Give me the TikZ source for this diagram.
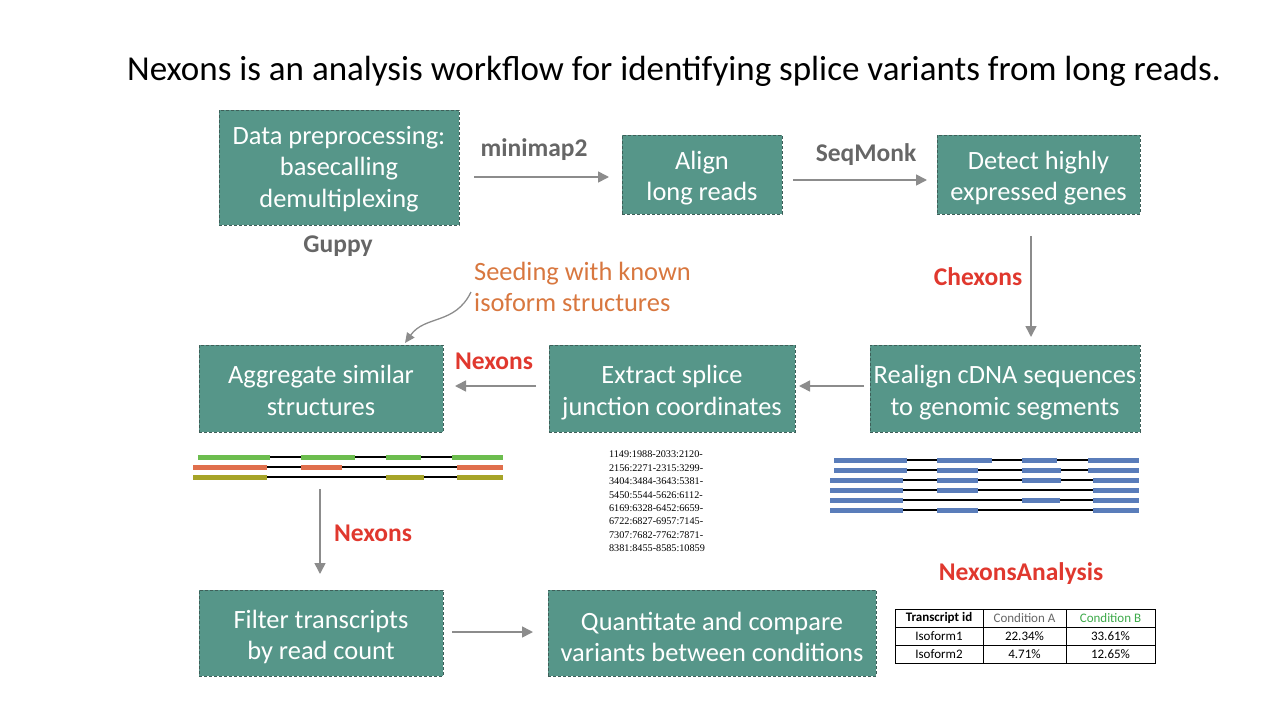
\documentclass[tikz,border=0pt]{standalone}
\usepackage{fontspec}
\setmainfont{Carlito}
\newfontfamily\numfont{Liberation Serif}
\usetikzlibrary{arrows.meta}
\definecolor{boxfill}{HTML}{569689}
\definecolor{boxedge}{HTML}{3E5F59}
\definecolor{arrowgray}{HTML}{8C8C8C}
\definecolor{labgray}{HTML}{666666}
\definecolor{labred}{HTML}{E0382E}
\definecolor{seedorange}{HTML}{D8773F}
\definecolor{exgreen}{HTML}{6CBD4E}
\definecolor{exorange}{HTML}{E06F4C}
\definecolor{exolive}{HTML}{A6A428}
\definecolor{exblue}{HTML}{5A7DBA}
\definecolor{condgreen}{HTML}{3DAA4A}
\tikzset{
  stepbox/.style={draw=boxedge, dash pattern=on 3pt off 2pt, line width=0.8pt, fill=boxfill, inner sep=0pt},
  boxtext/.style={text=white, align=center, font=\fontsize{26.4}{31.5}\selectfont, inner sep=0pt},
  flow/.style={draw=arrowgray, line width=1.6pt, -{Triangle[length=11pt,width=11pt]}},
  tool/.style={font=\fontsize{25.5}{30}\selectfont\bfseries, text=labgray},
  toolred/.style={font=\fontsize{25.5}{30}\selectfont\bfseries, text=labred},
  exon/.style={line width=5pt},
  intron/.style={line width=1.2pt, black},
  cell/.style={draw=black, line width=0.8pt, minimum height=18pt, inner sep=0pt, font=\fontsize{13}{15}\selectfont},
}
\begin{document}
\begin{tikzpicture}[x=1pt,y=-1pt]
\useasboundingbox (0,0) rectangle (1280,720);
% title
\node[anchor=base, font=\fontsize{35}{40}\selectfont] (title) at (674,80) {Nexons is an analysis workflow for identifying splice variants from long reads.};
% boxes
\node[stepbox, minimum width=240pt, minimum height=115pt] (pre) at (339,167.5) {};
\node[boxtext] (pretxt) at ([yshift=-1.5pt]pre.center) {Data preprocessing:\\basecalling\\demultiplexing};
\node[stepbox, minimum width=160pt, minimum height=79pt] (align) at (702,174.5) {};
\node[boxtext] (aligntxt) at ([yshift=-3.5pt]align.center) {Align\\long reads};
\node[stepbox, minimum width=203pt, minimum height=79pt] (detect) at (1038.5,174.5) {};
\node[boxtext] (detecttxt) at ([yshift=-3.5pt]detect.center) {Detect highly\\expressed genes};
\node[stepbox, minimum width=270pt, minimum height=87pt] (realign) at (1005,388.5) {};
\node[boxtext] (realigntxt) at ([yshift=-4pt]realign.center) {Realign cDNA sequences\\to genomic segments};
\node[stepbox, minimum width=246pt, minimum height=87pt] (extract) at (672,388.5) {};
\node[boxtext] (extracttxt) at ([yshift=-4pt]extract.center) {Extract splice\\junction coordinates};
\node[stepbox, minimum width=244pt, minimum height=87pt] (aggr) at (321,388.5) {};
\node[boxtext] (aggrtxt) at ([yshift=-2pt]aggr.center) {Aggregate similar\\structures};
\node[stepbox, minimum width=244pt, minimum height=86pt] (filter) at (321,633) {};
\node[boxtext] (filtertxt) at ([yshift=-4pt]filter.center) {Filter transcripts\\by read count};
\node[stepbox, minimum width=328pt, minimum height=86pt] (quant) at (712,633) {};
\node[boxtext] (quanttxt) at ([yshift=-4pt]quant.center) {Quantitate and compare\\variants between conditions};
% coordinates for arrows
\coordinate (a1s) at (474,177); \coordinate (a1e) at (609,177);
\coordinate (a2s) at (793,180); \coordinate (a2e) at (927,180);
\coordinate (a3s) at (1031,236); \coordinate (a3e) at (1031,337);
\coordinate (a4s) at (864,386); \coordinate (a4e) at (799,386);
\coordinate (a5s) at (536,386); \coordinate (a5e) at (455,386);
\coordinate (a6s) at (320,489); \coordinate (a6e) at (320,574);
\coordinate (a7s) at (452,632); \coordinate (a7e) at (533,632);
\draw[flow] (a1s) -- (a1e);
\draw[flow] (a2s) -- (a2e);
\draw[flow] (a3s) -- (a3e);
\draw[flow] (a4s) -- (a4e);
\draw[flow] (a5s) -- (a5e);
\draw[flow] (a6s) -- (a6e);
\draw[flow] (a7s) -- (a7e);
% labels
\node[tool] (l1) at (534,150) {minimap2};
\node[tool] (l2) at (866,155) {SeqMonk};
\node[tool] (guppy) at (338,246) {Guppy};
\node[toolred] (l3) at (978,277) {Chexons};
\node[toolred] (l4) at (494,361) {Nexons};
\node[toolred] (l5) at (373,533) {Nexons};
\node[toolred] (l6) at (1021,574) {NexonsAnalysis};
% seeding
\node[anchor=north west, align=left, text=seedorange, font=\fontsize{26.4}{31}\selectfont, inner sep=0pt] (seed) at (474,262) {Seeding with known\\isoform structures};
\coordinate (cs) at (471,292);
\coordinate (ce) at (405,343);
\draw[draw=arrowgray, line width=1.3pt, -{Triangle[length=10pt,width=9pt]}] (cs) .. controls (455,325) and (425,315) .. (ce);
% coordinates text
\node[anchor=north, align=left, font=\numfont\fontsize{10.2}{13.4}\selectfont, inner sep=0pt] (coords) at (657,451) {1149:1988-2033:2120-\\2156:2271-2315:3299-\\3404:3484-3643:5381-\\5450:5544-5626:6112-\\6169:6328-6452:6659-\\6722:6827-6957:7145-\\7307:7682-7762:7871-\\8381:8455-8585:10859};
% aggregated structures
\draw[intron] (270,457) -- (452,457);
\draw[intron] (267,467) -- (457,467);
\draw[intron] (267,477) -- (457,477);
\foreach \a/\b in {198/270,301/355,386/421,452/503} \draw[exon, exgreen] (\a,457) -- (\b,457);
\foreach \a/\b in {193/267,301/342,457/503} \draw[exon, exorange] (\a,467) -- (\b,467);
\foreach \a/\b in {193/267,386/424,457/503} \draw[exon, exolive] (\a,477) -- (\b,477);
% realigned reads
\foreach \y/\s/\e in {460/907/1088,470/907/1088,480/903/1093,490/903/1093,500/903/1093,510/903/1093} \draw[intron] (\s,\y) -- (\e,\y);
\foreach \a/\b in {834/907,937/992,1022/1057,1088/1139} \draw[exon, exblue] (\a,460) -- (\b,460);
\foreach \a/\b in {834/907,937/978,1022/1061,1088/1139} \draw[exon, exblue] (\a,470) -- (\b,470);
\foreach \a/\b in {830/903,937/978,1022/1061,1093/1139} \draw[exon, exblue] (\a,480) -- (\b,480);
\foreach \a/\b in {830/903,937/978,1093/1139} \draw[exon, exblue] (\a,490) -- (\b,490);
\foreach \a/\b in {830/903,1022/1060,1093/1139} \draw[exon, exblue] (\a,500) -- (\b,500);
\foreach \a/\b in {830/903,937/978,1093/1139} \draw[exon, exblue] (\a,510) -- (\b,510);
% table
\node[cell, minimum width=88pt, font=\fontsize{13}{15}\selectfont\bfseries] (t11) at (939,618) {Transcript id};
\node[cell, minimum width=83pt, text=labgray] (t12) at (1024.5,618) {Condition A};
\node[cell, minimum width=89pt, text=condgreen] (t13) at (1110.5,618) {Condition B};
\node[cell, minimum width=88pt] (t21) at (939,636) {Isoform1};
\node[cell, minimum width=83pt] (t22) at (1024.5,636) {22.34\%};
\node[cell, minimum width=89pt] (t23) at (1110.5,636) {33.61\%};
\node[cell, minimum width=88pt] (t31) at (939,654) {Isoform2};
\node[cell, minimum width=83pt] (t32) at (1024.5,654) {4.71\%};
\node[cell, minimum width=89pt] (t33) at (1110.5,654) {12.65\%};
\end{tikzpicture}
\end{document}
